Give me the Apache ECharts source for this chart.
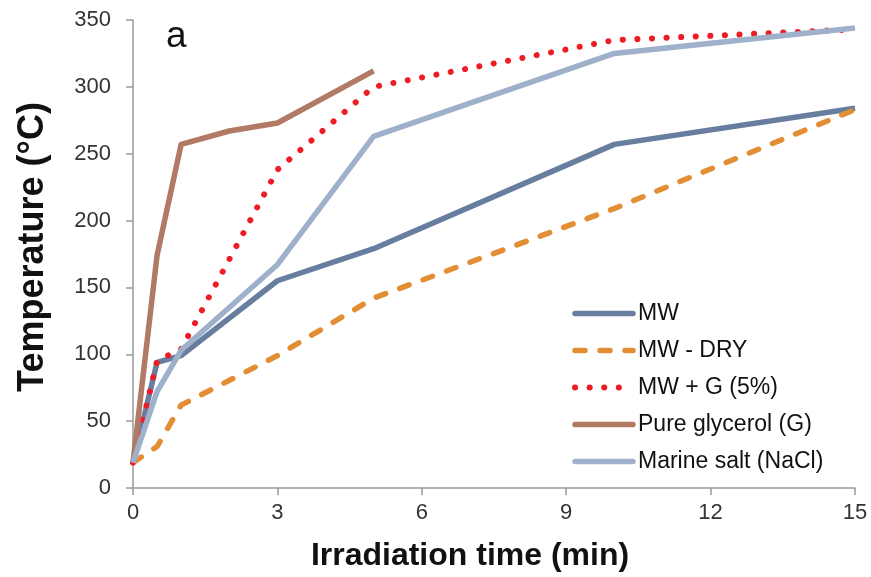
<!DOCTYPE html>
<html>
<head>
<meta charset="utf-8">
<script src="https://cdn.jsdelivr.net/npm/echarts@6/dist/echarts.min.js"></script>
<style>html,body{margin:0;padding:0;background:#fff}#c{width:871px;height:577px}</style>
</head>
<body>
<div id="c"></div>
<script>
const seriesNames = ['MW', 'MW - DRY', 'MW + G (5%)', 'Pure glycerol (G)', 'Marine salt (NaCl)'];
const timeMW = [0, 0.5, 1, 3, 5, 10, 15];
const valMW = [19, 94, 99, 155, 179, 257, 284];
const timeDry = [0, 0.5, 1, 3, 5, 10, 15];
const valDry = [19, 31, 62, 99, 142, 209, 283];
const timeMWG = [0, 0.5, 1, 3, 5, 10, 15];
const valMWG = [19, 95, 104, 238, 300, 335, 343];
const timeGly = [0, 0.5, 1, 2, 3, 5];
const valGly = [19, 174, 257, 267, 273, 312];
const timeSalt = [0, 0.5, 1, 3, 5, 10, 15];
const valSalt = [19, 72, 103, 167, 263, 325, 344];
const xTicks = [0, 3, 6, 9, 12, 15];
const yTicks = [0, 50, 100, 150, 200, 250, 300, 350];

const pairs = (t, v) => t.map((x, i) => [x, v[i]]);
const font = "'Liberation Sans', Arial, sans-serif";
const colors = ['#687e9f', '#e38d35', '#ee1c25', '#b07a64', '#9fb0cb'];
const styles = [
  { width: 5.5, type: 'solid', cap: 'round' },
  { width: 5.5, type: [10, 15], cap: 'round' },
  { width: 6, type: [0.1, 14.5], cap: 'round' },
  { width: 5.5, type: 'solid', cap: 'round' },
  { width: 5.5, type: 'solid', cap: 'round' }
];
const times = [timeMW, timeDry, timeMWG, timeGly, timeSalt];
const vals = [valMW, valDry, valMWG, valGly, valSalt];

const chart = echarts.init(document.getElementById('c'));
chart.setOption({
  animation: false,
  grid: { left: 133, right: 16, top: 20, bottom: 89 },
  graphic: [{ type: 'text', left: 166, top: 18, style: { text: 'a', fontSize: 37, fill: '#111', fontFamily: font } }],
  legend: {
    orient: 'vertical', left: 567, top: 297, itemWidth: 58, itemHeight: 14, itemGap: 14,
    textStyle: { fontSize: 23, lineHeight: 22, color: '#111', fontFamily: font },
    data: seriesNames.map((n, i) => ({
      name: n,
      itemStyle: { opacity: 0 },
      lineStyle: { color: colors[i], width: styles[i].width, type: styles[i].type, cap: styles[i].cap }
    }))
  },
  xAxis: {
    type: 'value', min: 0, max: 15, interval: 3,
    name: 'Irradiation time (min)', nameLocation: 'middle', nameGap: 52,
    nameTextStyle: { fontSize: 32, fontWeight: 'bold', color: '#111', fontFamily: font, padding: [0, 48, 0, 0] },
    axisLine: { lineStyle: { color: '#9a9a9a', width: 1.5 } },
    axisTick: { show: true, length: 7, lineStyle: { color: '#9a9a9a', width: 1.5 } },
    axisLabel: { fontSize: 22, color: '#333', margin: 14, fontFamily: font, customValues: xTicks },
    splitLine: { show: false }
  },
  yAxis: {
    type: 'value', min: 0, max: 350, interval: 50,
    name: 'Temperature (°C)', nameLocation: 'middle', nameGap: 82,
    nameTextStyle: { fontSize: 36, fontWeight: 'bold', color: '#111', fontFamily: font, padding: [0, 0, 0, 14] },
    axisLine: { show: true, lineStyle: { color: '#9a9a9a', width: 1.5 } },
    axisTick: { show: true, length: 7, lineStyle: { color: '#9a9a9a', width: 1.5 } },
    axisLabel: { fontSize: 22, color: '#333', margin: 22, fontFamily: font, customValues: yTicks },
    splitLine: { show: false }
  },
  series: seriesNames.map((n, i) => ({
    name: n, type: 'line', data: pairs(times[i], vals[i]), symbol: 'none',
    lineStyle: { color: colors[i], width: styles[i].width, type: styles[i].type, cap: i === 0 || i >= 3 ? 'butt' : 'round', join: 'round' },
    itemStyle: { color: colors[i] }
  }))
});
</script>
</body>
</html>
